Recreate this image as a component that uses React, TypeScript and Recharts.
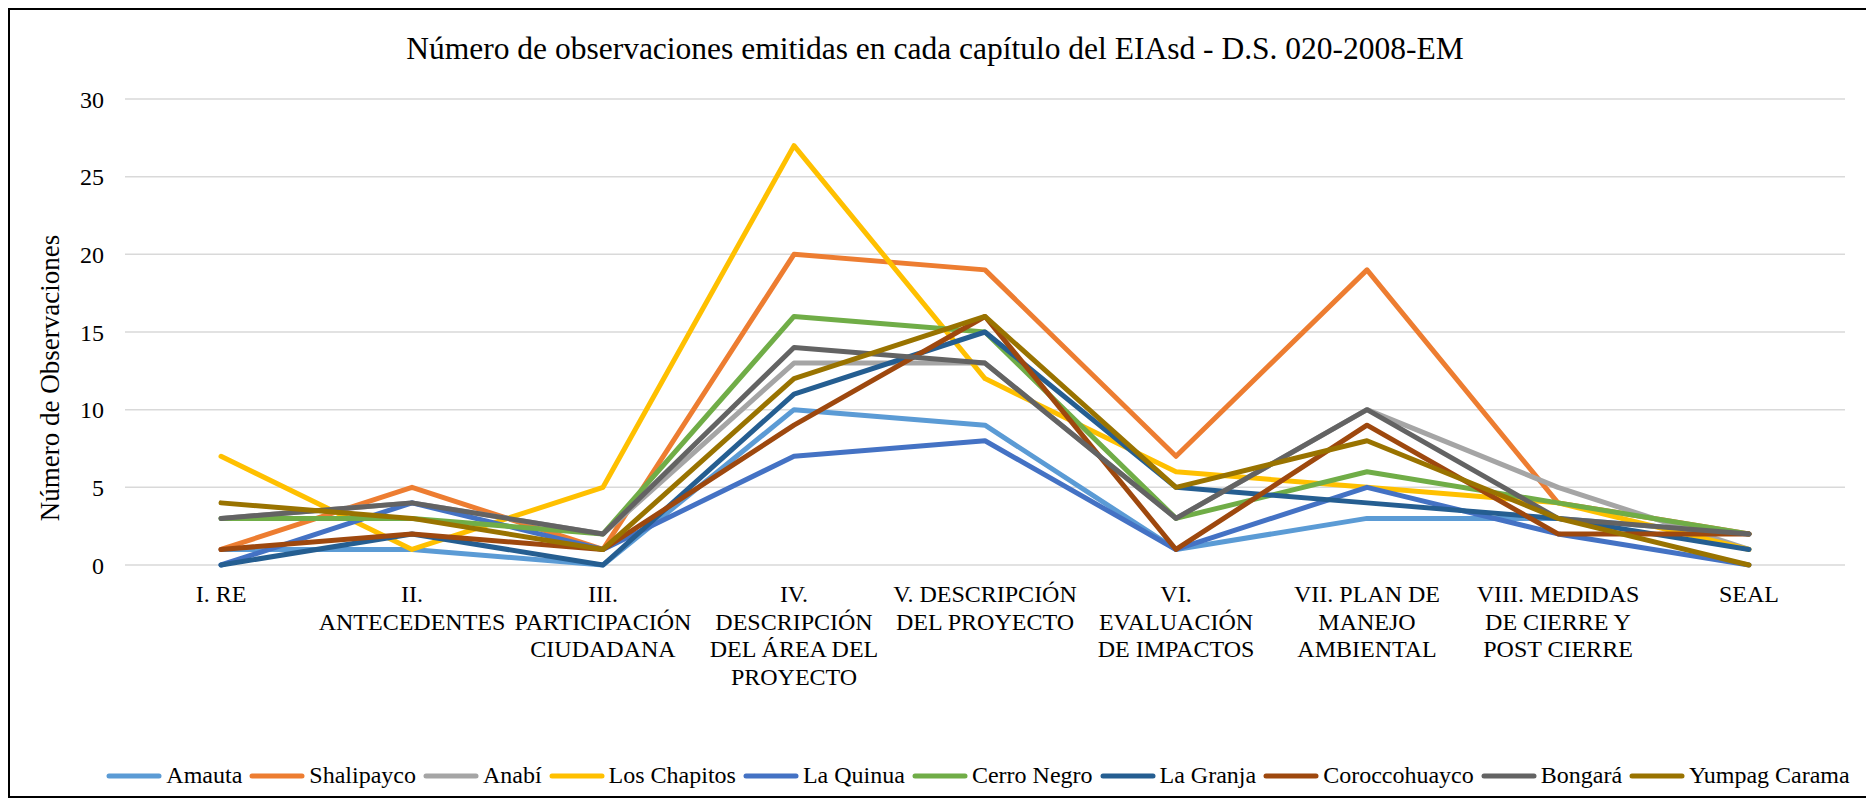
import { LineChart, Line, XAxis, YAxis, CartesianGrid, Legend } from 'recharts';

const categories = [
  'I. RE',
  'II. ANTECEDENTES',
  'III. PARTICIPACIÓN CIUDADANA',
  'IV. DESCRIPCIÓN DEL ÁREA DEL PROYECTO',
  'V. DESCRIPCIÓN DEL PROYECTO',
  'VI. EVALUACIÓN DE IMPACTOS',
  'VII. PLAN DE MANEJO AMBIENTAL',
  'VIII. MEDIDAS DE CIERRE Y POST CIERRE',
  'SEAL',
];

// tick labels, wrapped the way the original wraps them
const categoryLines = [
  ['I. RE'],
  ['II.', 'ANTECEDENTES'],
  ['III.', 'PARTICIPACIÓN', 'CIUDADANA'],
  ['IV.', 'DESCRIPCIÓN', 'DEL ÁREA DEL', 'PROYECTO'],
  ['V. DESCRIPCIÓN', 'DEL PROYECTO'],
  ['VI.', 'EVALUACIÓN', 'DE IMPACTOS'],
  ['VII. PLAN DE', 'MANEJO', 'AMBIENTAL'],
  ['VIII. MEDIDAS', 'DE CIERRE Y', 'POST CIERRE'],
  ['SEAL'],
];

const amauta = [1, 1, 0, 10, 9, 1, 3, 3, 2];
const shalipayco = [1, 5, 1, 20, 19, 7, 19, 4, 2];
const anabi = [3, 4, 2, 13, 13, 3, 10, 5, 1];
const losChapitos = [7, 1, 5, 27, 12, 6, 5, 4, 1];
const laQuinua = [0, 4, 1, 7, 8, 1, 5, 2, 0];
const cerroNegro = [3, 3, 2, 16, 15, 3, 6, 4, 2];
const laGranja = [0, 2, 0, 11, 15, 5, 4, 3, 1];
const coroccohuayco = [1, 2, 1, 9, 16, 1, 9, 2, 2];
const bongara = [3, 4, 2, 14, 13, 3, 10, 3, 2];
const yumpagCarama = [4, 3, 1, 12, 16, 5, 8, 3, 0];

const seriesNames = [
  'Amauta',
  'Shalipayco',
  'Anabí',
  'Los Chapitos',
  'La Quinua',
  'Cerro Negro',
  'La Granja',
  'Coroccohuayco',
  'Bongará',
  'Yumpag Carama',
];
const seriesValues = [
  amauta,
  shalipayco,
  anabi,
  losChapitos,
  laQuinua,
  cerroNegro,
  laGranja,
  coroccohuayco,
  bongara,
  yumpagCarama,
];

const yTicks = [0, 5, 10, 15, 20, 25, 30];

const seriesColors = [
  '#5B9BD5',
  '#ED7D31',
  '#A5A5A5',
  '#FFC000',
  '#4472C4',
  '#70AD47',
  '#255E91',
  '#9E480E',
  '#636363',
  '#997300',
];

const FONT = "'Liberation Serif', 'Times New Roman', Times, 'DejaVu Serif', serif";

const chartData = categories.map((category, i) => {
  const row: Record<string, string | number> = { category };
  seriesNames.forEach((name, j) => {
    row[name] = seriesValues[j][i];
  });
  return row;
});

function CategoryTick({ x, y, payload }: any) {
  const lines = categoryLines[payload.index] ?? [payload.value];
  return (
    <text x={x} y={y} textAnchor="middle" fontFamily={FONT} fontSize={24} fill="#000">
      {lines.map((line, i) => (
        <tspan key={i} x={x} dy={i === 0 ? 37 : 27.5}>
          {line}
        </tspan>
      ))}
    </text>
  );
}

function AxisTitle() {
  return (
    <text
      x={40}
      y={368}
      transform="rotate(-90 40 368)"
      textAnchor="middle"
      dominantBaseline="central"
      fontFamily={FONT}
      fontSize={27}
      fill="#000"
    >
      Número de Observaciones
    </text>
  );
}

function LegendContent() {
  return (
    <div
      style={{
        display: 'flex',
        justifyContent: 'center',
        alignItems: 'center',
        fontFamily: FONT,
        fontSize: 24,
        color: '#000',
        whiteSpace: 'nowrap',
      }}
    >
      {seriesNames.map((name, i) => (
        <div key={name} style={{ display: 'flex', alignItems: 'center', marginLeft: i === 0 ? 0 : 7 }}>
          <svg width={56} height={8} style={{ marginRight: 4 }}>
            <line x1={3} y1={4} x2={53} y2={4} stroke={seriesColors[i]} strokeWidth={5} strokeLinecap="round" />
          </svg>
          <span>{name}</span>
        </div>
      ))}
    </div>
  );
}

export default function App() {
  return (
    <div
      style={{
        position: 'relative',
        width: 1860,
        height: 790,
        border: '2px solid #000',
        boxSizing: 'border-box',
        background: '#fff',
      }}
    >
      <div
        style={{
          position: 'absolute',
          top: 23,
          left: 0,
          width: 1850,
          textAlign: 'center',
          fontFamily: FONT,
          fontSize: 31.5,
          lineHeight: '31px',
          color: '#000',
        }}
      >
        Número de observaciones emitidas en cada capítulo del EIAsd - D.S. 020-2008-EM
      </div>
      <LineChart
        width={1856}
        height={786}
        data={chartData}
        margin={{ top: 89, right: 21, bottom: 91, left: 55 }}
      >
        <CartesianGrid vertical={false} stroke="#D9D9D9" strokeWidth={1.5} />
        <XAxis
          dataKey="category"
          interval={0}
          axisLine={false}
          tickLine={false}
          tickSize={0}
          tickMargin={0}
          height={140}
          padding={{ left: 96, right: 96 }}
          tick={<CategoryTick />}
        />
        <YAxis
          domain={[0, 30]}
          ticks={yTicks}
          interval={0}
          width={60}
          axisLine={false}
          tickLine={false}
          tickSize={0}
          tickMargin={21}
          tick={{ fontFamily: FONT, fontSize: 24, fill: '#000' }}
          label={{ content: <AxisTitle /> }}
        />
        <Legend
          layout="horizontal"
          verticalAlign="middle"
          content={<LegendContent />}
          wrapperStyle={{ position: 'absolute', left: 80, width: 1776, top: 752 }}
        />
        {seriesNames.map((name, i) => (
          <Line
            key={name}
            type="linear"
            dataKey={name}
            stroke={seriesColors[i]}
            strokeWidth={5}
            strokeLinejoin="round"
            strokeLinecap="round"
            dot={false}
            activeDot={false}
            isAnimationActive={false}
          />
        ))}
      </LineChart>
    </div>
  );
}
